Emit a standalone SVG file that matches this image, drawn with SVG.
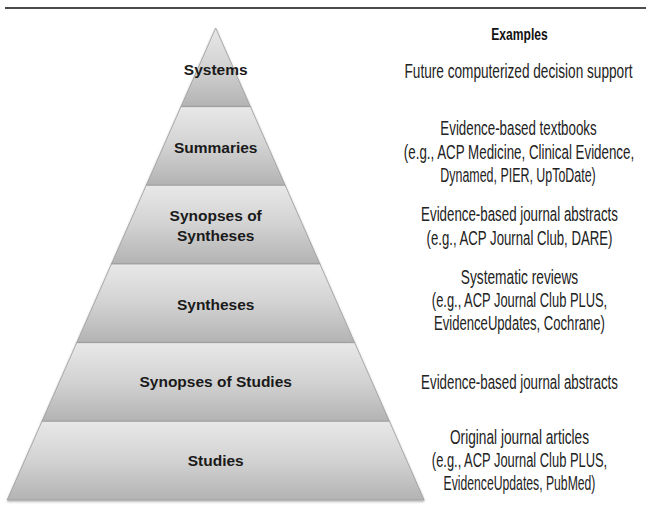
<svg xmlns="http://www.w3.org/2000/svg" width="646" height="508" viewBox="0 0 646 508">
<defs>
<linearGradient id="lg" x1="0" y1="0" x2="0" y2="1">
<stop offset="0" stop-color="#e8e8e8"/>
<stop offset="0.5" stop-color="#d2d2d2"/>
<stop offset="1" stop-color="#b3b3b3"/>
</linearGradient>
<filter id="sh" x="-5%" y="-5%" width="110%" height="115%">
<feDropShadow dx="0" dy="1.2" stdDeviation="0.8" flood-color="#000" flood-opacity="0.35"/>
</filter>
</defs>
<style>
.layer{fill:url(#lg);stroke:#9a9a9a;stroke-width:0.8;filter:url(#sh)}
.lbl{font-family:"Liberation Sans",Arial,sans-serif;font-weight:bold;font-size:15.5px;fill:#1a1a1a;text-anchor:middle}
.ex{font-family:"Liberation Sans",Arial,sans-serif;font-size:19.5px;fill:#222;text-anchor:middle}
.hd{font-family:"Liberation Sans",Arial,sans-serif;font-weight:bold;font-size:17px;fill:#111;text-anchor:middle}
</style>
<rect width="646" height="508" fill="#ffffff"/>
<line x1="5" y1="8" x2="646" y2="8" stroke="#111" stroke-width="1.5"/>

<g id="systems">
<polygon class="layer" points="215.7,28 250.45,106.67 180.95,106.67"/>
<text class="lbl" x="215.7" y="74.5">Systems</text>
</g>
<g id="summaries">
<polygon class="layer" points="180.95,106.67 250.45,106.67 285.2,185.33 146.2,185.33"/>
<text class="lbl" x="215.7" y="153">Summaries</text>
</g>
<g id="synopses-of-syntheses">
<polygon class="layer" points="146.2,185.33 285.2,185.33 319.95,264 111.45,264"/>
<text class="lbl" x="215.7" y="221">Synopses of</text>
<text class="lbl" x="215.7" y="240.5">Syntheses</text>
</g>
<g id="syntheses">
<polygon class="layer" points="111.45,264 319.95,264 354.7,342.67 76.7,342.67"/>
<text class="lbl" x="215.7" y="309.5">Syntheses</text>
</g>
<g id="synopses-of-studies">
<polygon class="layer" points="76.7,342.67 354.7,342.67 389.45,421.33 41.95,421.33"/>
<text class="lbl" x="215.7" y="387">Synopses of Studies</text>
</g>
<g id="studies">
<polygon class="layer" points="41.95,421.33 389.45,421.33 424.2,500 7.2,500"/>
<text class="lbl" x="215.7" y="465.5">Studies</text>
</g>

<g id="examples-header">
<text class="hd" transform="translate(519.5 40) scale(0.712 1)">Examples</text>
</g>
<g id="ex-systems">
<text class="ex" transform="translate(518.5 77.5) scale(0.699 1)">Future computerized decision support</text>
</g>
<g id="ex-summaries">
<text class="ex" transform="translate(518.5 134.5) scale(0.684 1)">Evidence-based textbooks</text>
<text class="ex" transform="translate(519 158.5) scale(0.685 1)">(e.g., ACP Medicine, Clinical Evidence,</text>
<text class="ex" transform="translate(518 182) scale(0.638 1)">Dynamed, PIER, UpToDate)</text>
</g>
<g id="ex-synopses-of-syntheses">
<text class="ex" transform="translate(519.5 220.5) scale(0.683 1)">Evidence-based journal abstracts</text>
<text class="ex" transform="translate(519.5 245) scale(0.677 1)">(e.g., ACP Journal Club, DARE)</text>
</g>
<g id="ex-syntheses">
<text class="ex" transform="translate(519.5 283.5) scale(0.704 1)">Systematic reviews</text>
<text class="ex" transform="translate(519.5 307) scale(0.662 1)">(e.g., ACP Journal Club PLUS,</text>
<text class="ex" transform="translate(519.5 330) scale(0.671 1)">EvidenceUpdates, Cochrane)</text>
</g>
<g id="ex-synopses-of-studies">
<text class="ex" transform="translate(519.5 389) scale(0.683 1)">Evidence-based journal abstracts</text>
</g>
<g id="ex-studies">
<text class="ex" transform="translate(519.5 443.5) scale(0.702 1)">Original journal articles</text>
<text class="ex" transform="translate(519.5 466.5) scale(0.662 1)">(e.g., ACP Journal Club PLUS,</text>
<text class="ex" transform="translate(519.5 490) scale(0.626 1)">EvidenceUpdates, PubMed)</text>
</g>
</svg>
